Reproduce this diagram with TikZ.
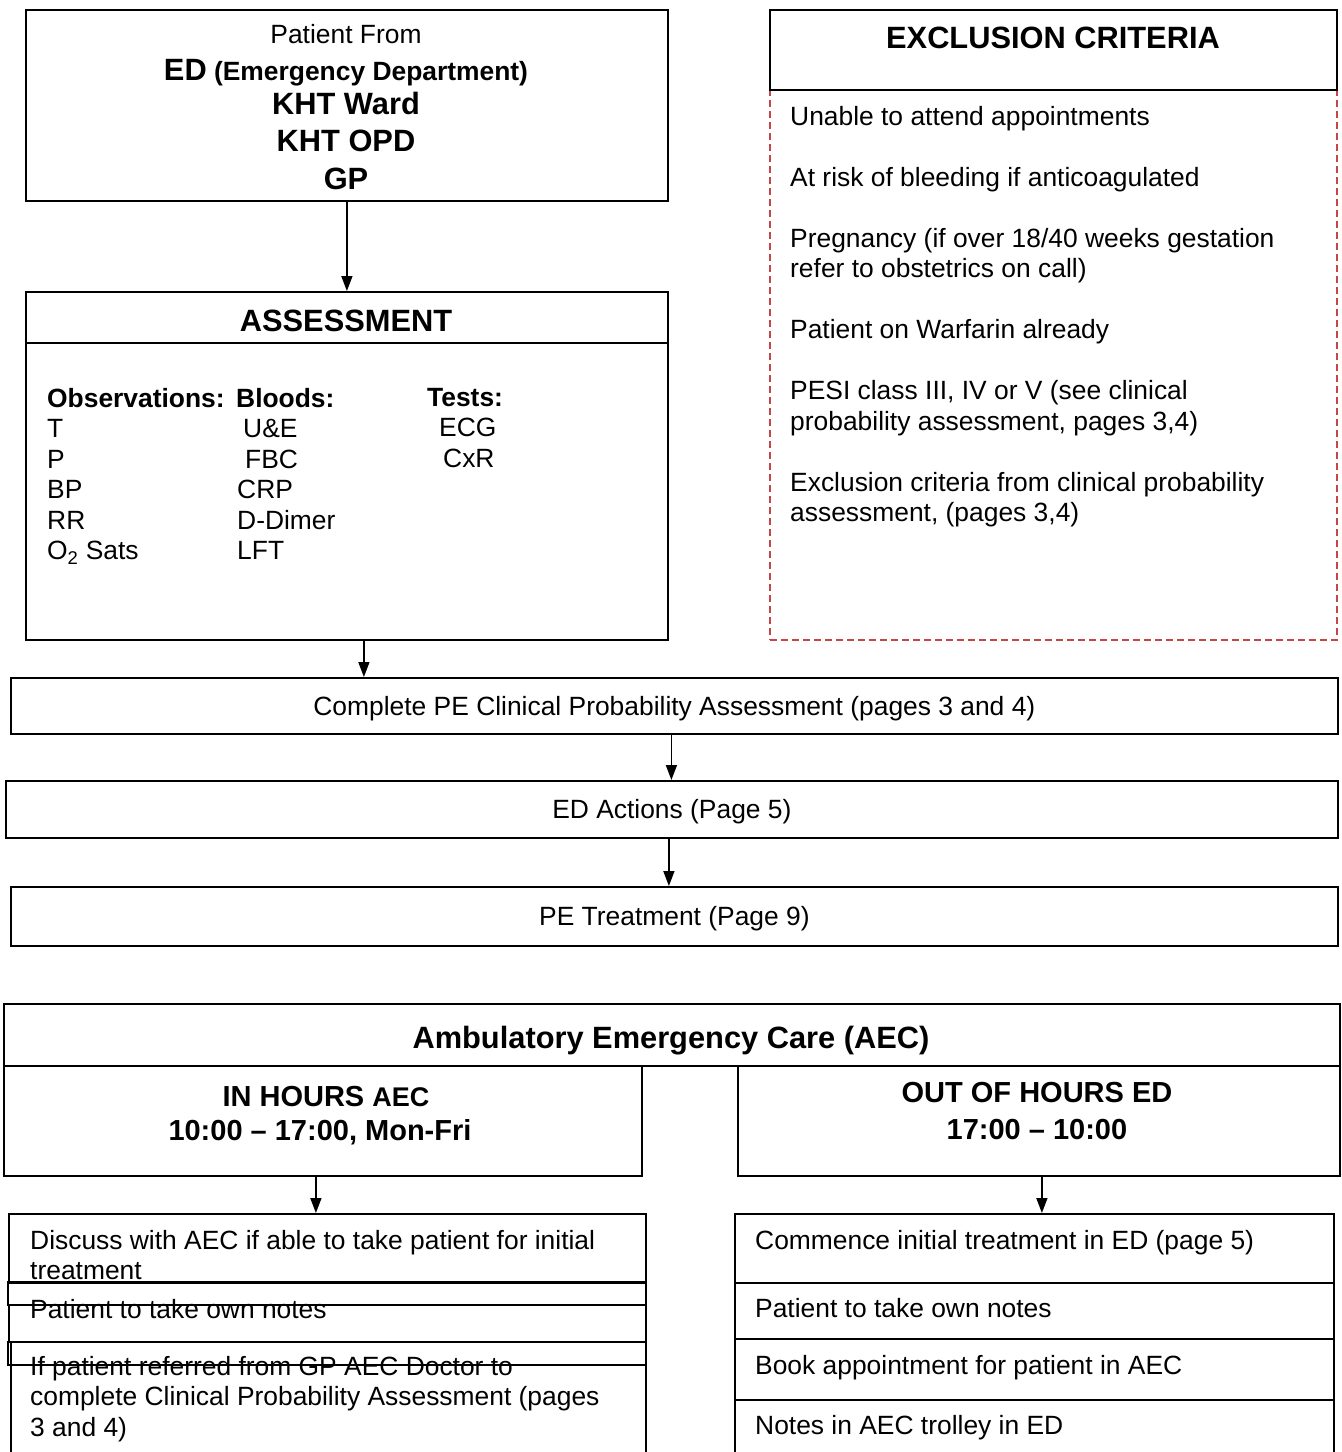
\documentclass[tikz,border=0pt]{standalone}
\usepackage{fontspec}
\setmainfont{Liberation Sans}
\usetikzlibrary{arrows.meta}
\definecolor{exred}{RGB}{196,70,70}
\begin{document}
\begin{tikzpicture}[x=1pt,y=-1pt,
  box/.style={draw, line width=1.8pt, inner sep=0pt, anchor=north west},
  cbox/.style={box, font=\fontsize{26.4}{30.5}\selectfont, text height=19pt, text depth=0pt},
  dbox/.style={draw=exred, line width=2pt, dash pattern=on 7pt off 4pt, inner sep=0pt, anchor=north west},
  body/.style={inner sep=0pt, font=\fontsize{26.4}{30.5}\selectfont},
  bodyb/.style={inner sep=0pt, font=\bfseries\fontsize{26.4}{30.5}\selectfont},
  big/.style={inner sep=0pt, font=\bfseries\fontsize{30.8}{35}\selectfont},
  mid/.style={inner sep=0pt, font=\bfseries\fontsize{29}{33}\selectfont},
  arr/.style={line width=1.6pt, -{Triangle[length=15pt,width=11pt]}}
]
\useasboundingbox (0,0) rectangle (1342,1452);
\clip (0,0) rectangle (1342,1452);

% ---------- top left: source ----------
\node[box, minimum width=642pt, minimum height=191pt] (src) at (25,9) {};
\node[body, anchor=base] (pf1) at (346,43) {Patient From};
\node[bodyb, anchor=base] (pf2) at (346,80) {{\fontsize{30.8}{35}\selectfont ED} (Emergency Department)};
\node[big, anchor=base] (pf3) at (346,114) {KHT Ward};
\node[big, anchor=base] (pf4) at (346,151) {KHT OPD};
\node[big, anchor=base] (pf5) at (346,189) {GP};

% ---------- assessment ----------
\node[box, minimum width=642pt, minimum height=51pt] (assH) at (25,291) {};
\node[box, minimum width=642pt, minimum height=297pt] (assB) at (25,342) {};
\node[big, anchor=base] (assT) at (346,331) {ASSESSMENT};
\node[body, anchor=north west, align=left] (obs) at (47,388)
  {\textbf{Observations:}\\T\\P\\BP\\RR\\O\textsubscript{2} Sats};
\node[body, anchor=north west, align=left] (blood) at (236,388)
  {\textbf{Bloods:}\\\hspace*{7pt}U\&E\\\hspace*{9pt}FBC\\\hspace*{1pt}CRP\\\hspace*{1pt}D-Dimer\\\hspace*{1pt}LFT};
\node[body, anchor=north west, align=left] (tests) at (427,388)
  {\textbf{Tests:}\\\hspace*{12pt}ECG\\\hspace*{16pt}CxR};

% ---------- exclusion criteria ----------
\node[dbox, minimum width=567pt, minimum height=550pt] (exB) at (769,89) {};
\node[box, minimum width=567pt, minimum height=80pt] (exH) at (769,9) {};
\node[big, anchor=base] (exT) at (1053,48) {EXCLUSION CRITERIA};
\node[body, anchor=north west, align=left] (exL) at (790,106)
  {Unable to attend appointments\\[30.5pt]
   At risk of bleeding if anticoagulated\\[30.5pt]
   Pregnancy (if over 18/40 weeks gestation\\
   refer to obstetrics on call)\\[30.5pt]
   Patient on Warfarin already\\[30.5pt]
   PESI class III, IV or V (see clinical\\
   probability assessment, pages 3,4)\\[30.5pt]
   Exclusion criteria from clinical probability\\
   assessment, (pages 3,4)};

% ---------- middle flow ----------
\node[cbox, minimum width=1327pt, minimum height=56pt] (cpe) at (10,677) {Complete PE Clinical Probability Assessment (pages 3 and 4)};
\node[cbox, minimum width=1332pt, minimum height=57pt] (eda) at (5,780) {ED Actions (Page 5)};
\node[cbox, minimum width=1327pt, minimum height=59pt] (pet) at (10,886) {PE Treatment (Page 9)};

% ---------- AEC ----------
\node[box, minimum width=1336pt, minimum height=62pt] (aecH) at (3,1003) {};
\node[big, anchor=base] (aecT) at (671,1048) {Ambulatory Emergency Care (AEC)};
\node[box, minimum width=638pt, minimum height=110pt] (inh) at (3,1065) {};
\node[box, minimum width=602pt, minimum height=110pt] (outh) at (737,1065) {};
\node[mid, anchor=base] (inh1) at (326,1106.5) {IN HOURS {\fontsize{27}{30}\selectfont AEC}};
\node[mid, anchor=base] (inh2) at (320,1140.5) {10:00 – 17:00, Mon-Fri};
\node[mid, anchor=base] (out1) at (1037,1102.5) {OUT OF HOURS ED};
\node[mid, anchor=base] (out2) at (1037,1139.5) {17:00 – 10:00};

% ---------- lower left column ----------
\node[box, minimum width=637pt, minimum height=69pt] (l1) at (8,1213) {};
\node[box, minimum width=638pt, minimum height=23pt] (l2) at (7,1281) {};
\node[box, minimum width=637pt, minimum height=37pt] (l3) at (8,1304) {};
\node[box, minimum width=635pt, minimum height=140pt] (l5) at (10,1341) {};
\node[box, minimum width=638pt, minimum height=23pt] (l4) at (7,1341) {};
\node[body, anchor=north west, align=left] (l1t) at (30,1230)
  {Discuss with AEC if able to take patient for initial\\treatment};
\node[body, anchor=base west] (l3t) at (30,1318.5) {Patient to take own notes};
\node[body, anchor=north west, align=left] (l5t) at (30,1356)
  {If patient referred from GP AEC Doctor to\\complete Clinical Probability Assessment (pages\\3 and 4)};

% ---------- lower right column ----------
\node[box, minimum width=599pt, minimum height=69pt] (r1) at (734,1213) {};
\node[box, minimum width=599pt, minimum height=56pt] (r2) at (734,1282) {};
\node[box, minimum width=599pt, minimum height=61pt] (r3) at (734,1338) {};
\node[box, minimum width=599pt, minimum height=80pt] (r4) at (734,1399) {};
\node[body, anchor=base west] (r1t) at (755,1249.5) {Commence initial treatment in ED (page 5)};
\node[body, anchor=base west] (r2t) at (755,1317.5) {Patient to take own notes};
\node[body, anchor=base west] (r3t) at (755,1374.5) {Book appointment for patient in AEC};
\node[body, anchor=base west] (r4t) at (755,1434.5) {Notes in AEC trolley in ED};

% ---------- connectors ----------
\draw[arr] (src.south) -- (assH.north);
\coordinate (a1) at ([xshift=17pt]assB.south);
\draw[arr] (a1) -- (a1 |- cpe.north);
\coordinate (a2) at ([xshift=-3pt]cpe.south);
\draw[arr] (a2) -- (a2 |- eda.north);
\coordinate (a3) at ([xshift=-3pt]eda.south);
\draw[arr] (a3) -- (a3 |- pet.north);
\coordinate (a4) at ([xshift=-7pt]inh.south);
\draw[arr] (a4) -- (a4 |- l1.north);
\coordinate (a5) at ([xshift=3pt]outh.south);
\draw[arr] (a5) -- (a5 |- r1.north);
\end{tikzpicture}
\end{document}
